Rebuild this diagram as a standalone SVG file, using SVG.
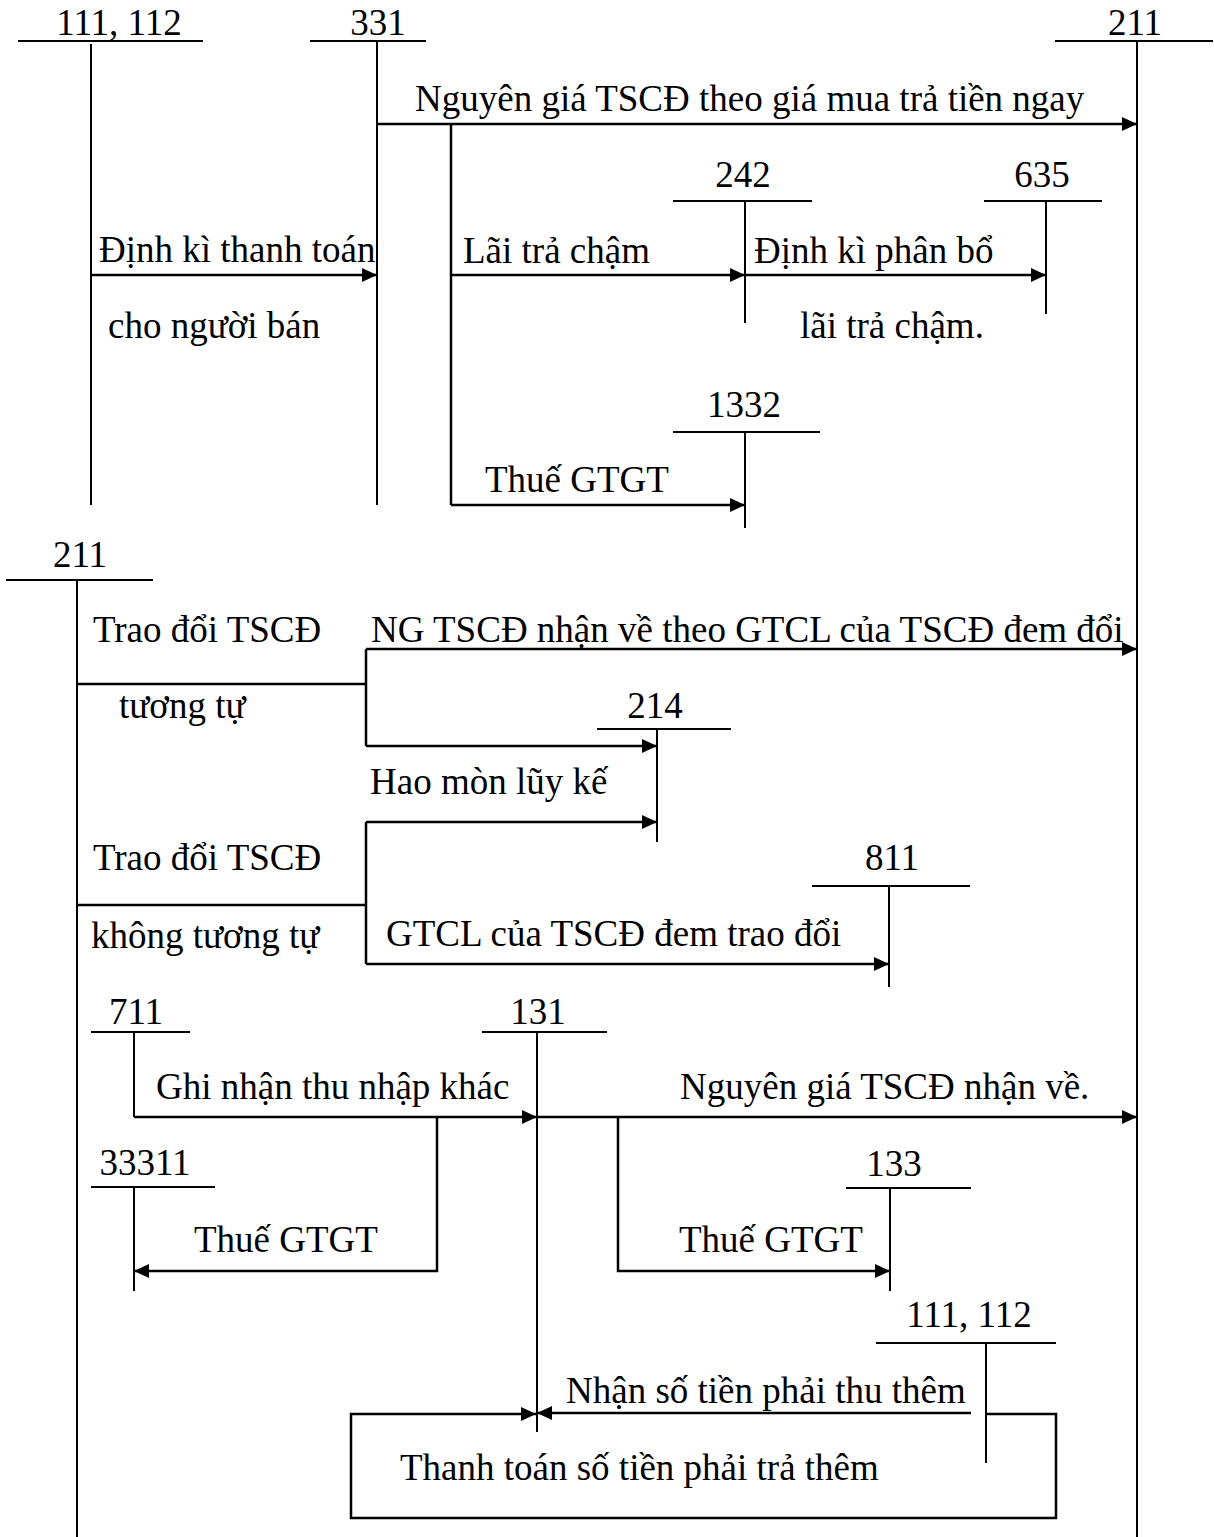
<svg xmlns="http://www.w3.org/2000/svg" width="1214" height="1537" viewBox="0 0 1214 1537">
<defs>
<marker id="ah" markerUnits="userSpaceOnUse" markerWidth="16" markerHeight="16" refX="15" refY="7" orient="auto">
<path d="M0,0 L15,7 L0,14 z" fill="#000"/>
</marker>
<style>
text{font-family:"Liberation Serif","Times New Roman",serif;font-size:37px;fill:#000}
.n{text-anchor:middle}
.t{stroke:#000;stroke-width:2;fill:none}
.a{stroke:#000;stroke-width:2.5;fill:none}
.ar{stroke:#000;stroke-width:2.5;fill:none;marker-end:url(#ah)}
</style>
</defs>
<rect width="1214" height="1537" fill="#fff"/>

<g id="acc-111-112-top"><text class="n" x="119" y="35">111, 112</text><path class="t" d="M18,41 H203 M91,44 V505"/></g>
<g id="acc-331"><text class="n" x="378" y="35">331</text><path class="t" d="M310,41 H426 M377,41 V505"/></g>
<g id="acc-211-right"><text class="n" x="1135" y="35">211</text><path class="t" d="M1055,41 H1213 M1137,41 V1537"/></g>
<g id="acc-242"><text class="n" x="743" y="187">242</text><path class="t" d="M673,201 H812 M745,201 V323"/></g>
<g id="acc-635"><text class="n" x="1042" y="187">635</text><path class="t" d="M984,201 H1102 M1046,201 V314"/></g>
<g id="acc-1332"><text class="n" x="744" y="417">1332</text><path class="t" d="M673,432 H820 M745,432 V528"/></g>
<g id="acc-211-left"><text class="n" x="80" y="567">211</text><path class="t" d="M6,580 H153 M77,580 V1537"/></g>
<g id="acc-214"><text class="n" x="655" y="718">214</text><path class="t" d="M597,729 H731 M657,729 V842"/></g>
<g id="acc-811"><text class="n" x="892" y="870">811</text><path class="t" d="M812,886 H970 M889,886 V987"/></g>
<g id="acc-711"><text class="n" x="136" y="1024">711</text><path class="t" d="M91,1032 H190 M134,1032 V1117"/></g>
<g id="acc-131"><text class="n" x="538" y="1024">131</text><path class="t" d="M482,1032 H607 M537,1032 V1432"/></g>
<g id="acc-33311"><text class="n" x="145" y="1175">33311</text><path class="t" d="M91,1187 H215 M134,1187 V1291"/></g>
<g id="acc-133"><text class="n" x="894" y="1176">133</text><path class="t" d="M846,1188 H971 M890,1188 V1291"/></g>
<g id="acc-111-112-bottom"><text class="n" x="969" y="1327">111, 112</text><path class="t" d="M876,1343 H1056 M986,1343 V1463"/></g>

<g id="connectors">
<path class="ar" d="M377,124 H1137"/>
<path class="a" d="M451,124 V505"/>
<path class="ar" d="M451,275 H745"/>
<path class="ar" d="M745,275 H1046"/>
<path class="ar" d="M91,275 H377"/>
<path class="ar" d="M451,505 H745"/>

<path class="a" d="M77,684 H366"/>
<path class="a" d="M366,649 V746"/>
<path class="ar" d="M366,649 H1137"/>
<path class="ar" d="M366,746 H657"/>
<path class="a" d="M77,905 H366"/>
<path class="a" d="M366,822 V964"/>
<path class="ar" d="M366,822 H657"/>
<path class="ar" d="M366,964 H889"/>

<path class="ar" d="M134,1117 H537"/>
<path class="ar" d="M537,1117 H1137"/>
<path class="ar" d="M437,1117 V1271 H134"/>
<path class="ar" d="M618,1117 V1271 H890"/>
<path class="ar" d="M971,1413 H537"/>
<path class="ar" d="M986,1414 H1056 V1518 H351 V1414 H536"/>
</g>

<g id="labels">
<text x="415" y="111">Nguyên giá TSCĐ theo giá mua trả tiền ngay</text>
<text x="99" y="262">Định kì thanh toán</text>
<text x="108" y="338">cho người bán</text>
<text x="463" y="263">Lãi trả chậm</text>
<text x="754" y="263">Định kì phân bổ</text>
<text x="800" y="338">lãi trả chậm.</text>
<text x="485" y="492">Thuế GTGT</text>
<text x="93" y="642">Trao đổi TSCĐ</text>
<text x="371" y="642">NG TSCĐ nhận về theo GTCL của TSCĐ đem đổi</text>
<text x="119" y="718">tương tự</text>
<text x="370" y="794">Hao mòn lũy kế</text>
<text x="93" y="870">Trao đổi TSCĐ</text>
<text x="91" y="948">không tương tự</text>
<text x="386" y="946">GTCL của TSCĐ đem trao đổi</text>
<text x="156" y="1099">Ghi nhận thu nhập khác</text>
<text x="680" y="1099">Nguyên giá TSCĐ nhận về.</text>
<text x="194" y="1252">Thuế GTGT</text>
<text x="679" y="1252">Thuế GTGT</text>
<text x="566" y="1403">Nhận số tiền phải thu thêm</text>
<text x="400" y="1480">Thanh toán số tiền phải trả thêm</text>
</g>
</svg>
